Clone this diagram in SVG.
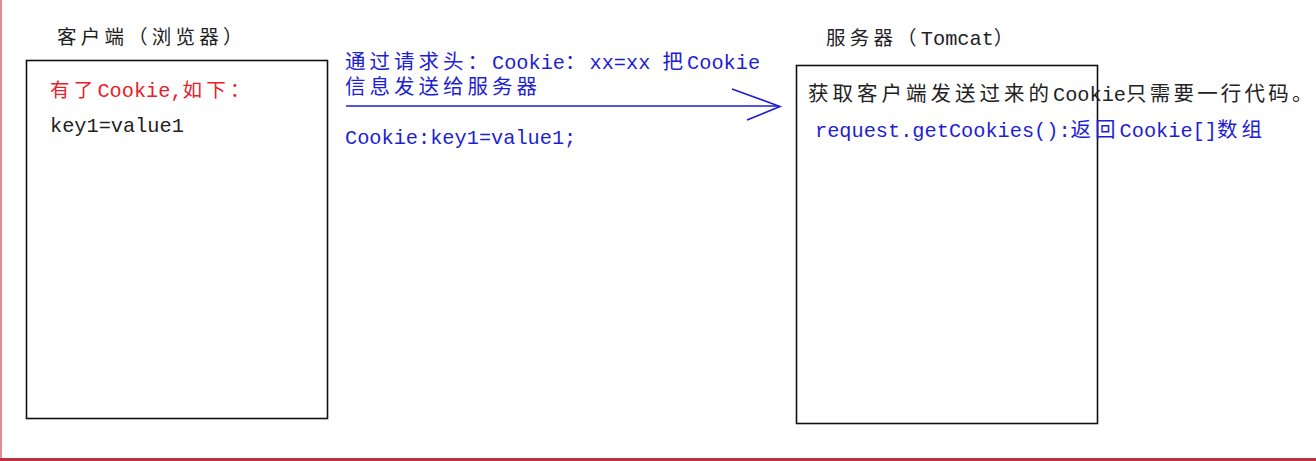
<svg xmlns="http://www.w3.org/2000/svg" width="1316" height="461" viewBox="0 0 1316 461">
<style>
  text { font-family: "Liberation Mono", "Noto Sans CJK SC", monospace; font-size: 20.3px; }
  .cj { font-family: "Noto Sans CJK SC", sans-serif; font-size: 20.5px; letter-spacing: 4px; }
  .cs { font-family: "Noto Sans CJK SC", sans-serif; font-size: 20.5px; letter-spacing: 3.2px; }
  .tj { font-family: "Noto Sans CJK SC", sans-serif; font-size: 19.5px; letter-spacing: 4.2px; }
  .blk { fill: #222222; }
  .red { fill: #e8202a; }
  .blu { fill: #1e1ed2; }
  .box { fill: #ffffff; stroke: #111111; stroke-width: 1.6; }
  .arr { fill: none; stroke: #1e1ed2; stroke-width: 1.6; }
</style>
<rect x="0" y="0" width="1316" height="461" fill="#ffffff"/>
<line x1="1" y1="0" x2="1" y2="461" stroke="#e88896" stroke-width="2"/>
<line x1="0" y1="459.5" x2="1316" y2="459.5" stroke="#b8323f" stroke-width="3"/>

<g id="client">
  <text x="57" y="44" class="blk"><tspan class="tj">客户端（浏览器）</tspan></text>
  <rect class="box" x="26.5" y="60.5" width="301" height="358"/>
  <text x="50" y="97" class="red"><tspan class="tj">有了</tspan>Cookie,<tspan class="tj">如下：</tspan></text>
  <text x="50" y="132" class="blk">key1=value1</text>
</g>

<g id="server">
  <text x="826" y="45" class="blk"><tspan class="tj">服务器（</tspan>Tomcat<tspan class="tj">）</tspan></text>
  <rect class="box" x="796.5" y="65.5" width="301" height="358"/>
  <text x="808" y="101" class="blk"><tspan class="cj">获取客户端发送过来的</tspan>Cookie<tspan class="cs">只需要一行代码。</tspan></text>
  <text x="815" y="137" class="blu">request.getCookies():<tspan class="cj">返回</tspan>Cookie[]<tspan class="cj">数组</tspan></text>
</g>

<g id="connectors">
  <line class="arr" x1="346" y1="106" x2="779" y2="106"/>
  <polyline class="arr" points="732,89 780,106.5 747,120"/>
  <text x="345" y="69" class="blu"><tspan class="cj">通过请求头：</tspan>Cookie<tspan class="cj">：</tspan>xx=xx <tspan class="cj">把</tspan>Cookie</text>
  <text x="345" y="94" class="blu"><tspan class="cj">信息发送给服务器</tspan></text>
  <text x="345" y="144" class="blu">Cookie:key1=value1;</text>
</g>
</svg>
